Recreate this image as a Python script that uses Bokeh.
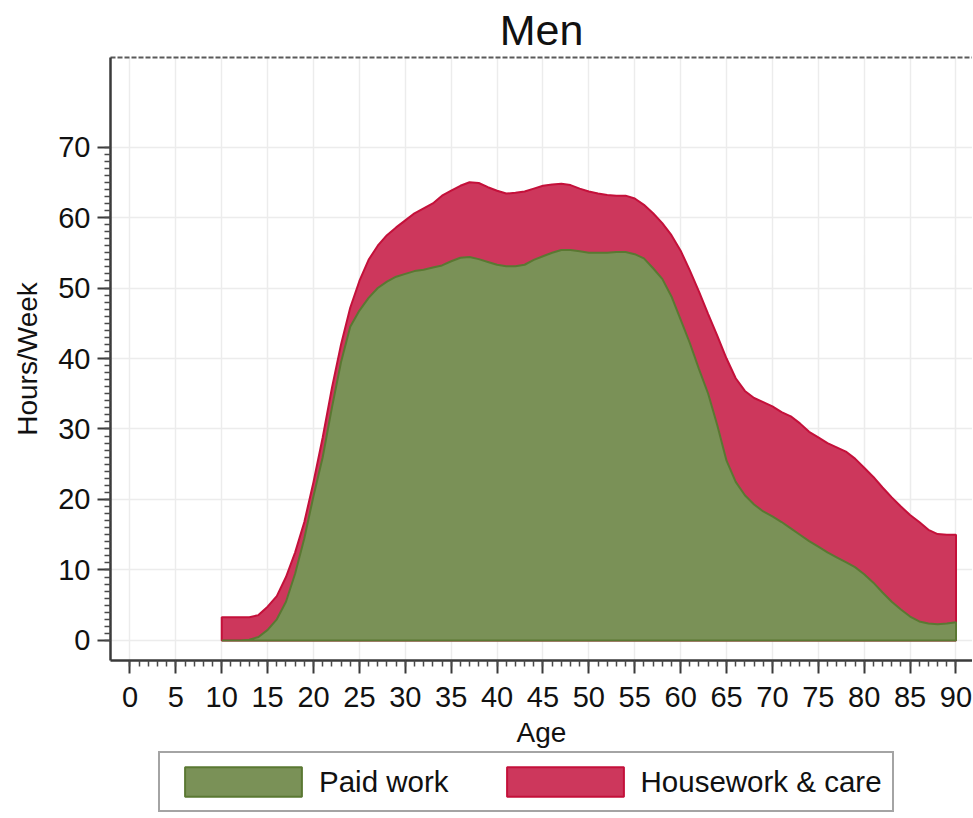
from bokeh.plotting import figure
from bokeh.layouts import column
from bokeh.models import FixedTicker, LinearAxis, Range1d, Legend, LegendItem
from bokeh.embed import file_html
from bokeh.resources import INLINE

# ---- data ----
ages = list(range(10, 91))
paid_work = [0, 0, 0, 0.1, 0.5, 1.5, 3, 5.5, 9.5, 14.5,
             20.5, 26, 33, 39.5, 44.5, 46.8, 48.6, 50, 50.9, 51.6,
             52.0, 52.4, 52.6, 52.9, 53.2, 53.8, 54.3, 54.4, 54.1, 53.7,
             53.3, 53.1, 53.1, 53.3, 54.0, 54.5, 55.0, 55.4, 55.4, 55.2,
             55.0, 55.0, 55.0, 55.1, 55.1, 54.8, 54.2, 52.8, 51.3, 48.8,
             45.5, 42.2, 38.5, 35.0, 30.5, 25.5, 22.5, 20.6, 19.3, 18.3,
             17.6, 16.8, 15.9, 15.0, 14.1, 13.3, 12.5, 11.8, 11.1, 10.4,
             9.4, 8.2, 6.8, 5.5, 4.4, 3.4, 2.7, 2.4, 2.3, 2.4,
             2.6]
total_work = [3.3, 3.3, 3.3, 3.3, 3.6, 4.8, 6.3, 9.0, 12.5, 16.8,
              22.5, 28.8, 35.8, 42.0, 47.2, 51.0, 54.0, 56.0, 57.5, 58.6,
              59.6, 60.6, 61.3, 62.0, 63.1, 63.8, 64.5, 65.0, 64.9, 64.3,
              63.8, 63.4, 63.5, 63.7, 64.1, 64.5, 64.7, 64.8, 64.6, 64.1,
              63.7, 63.4, 63.2, 63.1, 63.1, 62.7, 61.8, 60.6, 59.2, 57.5,
              55.3, 52.5, 49.5, 46.3, 43.2, 40.0, 37.2, 35.4, 34.4, 33.8,
              33.2, 32.4, 31.8, 30.8, 29.6, 28.8, 28.0, 27.4, 26.8, 25.8,
              24.5, 23.2, 21.7, 20.3, 19.0, 17.8, 16.8, 15.7, 15.1, 15.0,
              15.0]
x_ticks = list(range(0, 91, 5))
y_ticks = list(range(0, 71, 10))
series_labels = ["Paid work", "Housework & care"]

FONT = "Liberation Sans"
GREEN_FILL, GREEN_LINE = "#7a9157", "#5a7832"
RED_FILL, RED_LINE = "#cd375c", "#c4103a"

p = figure(frame_width=862, frame_height=603,
           x_range=Range1d(-2.12, 91.8), y_range=Range1d(-2.84, 82.7),
           output_backend="svg", toolbar_location=None,
           min_border_left=110, min_border_right=0, min_border_top=0,
           min_border_bottom=0)
p.outline_line_color = None
p.background_fill_color = "white"

bx = [ages[0]] + ages + [ages[-1]]
red = p.patch(bx, [0] + total_work + [0], fill_color=RED_FILL,
              line_color=RED_LINE, line_width=2)
green = p.patch(bx, [0] + paid_work + [0], fill_color=GREEN_FILL,
                line_color=GREEN_LINE, line_width=2)

p.title.text = "Men"
p.title.text_font = FONT
p.title.text_font_size = "43px"
p.title.text_font_style = "normal"
p.title.text_color = "#111111"
p.title.align = "center"
p.title.standoff = 7

top = LinearAxis(ticker=FixedTicker(ticks=[]), axis_line_color="#5a5a5a",
                 axis_line_width=2, axis_line_dash="5 2",
                 major_tick_line_color=None, minor_tick_line_color=None,
                 major_label_text_font_size="0px")
p.add_layout(top, "above")

xa = p.below[0]
ya = p.left[0]
xa.ticker = FixedTicker(ticks=x_ticks, minor_ticks=list(range(0, 91)))
ya.ticker = FixedTicker(ticks=y_ticks, minor_ticks=list(range(0, 71)))
for ax in (xa, ya):
    ax.axis_line_color = "#3a3a3a"
    ax.axis_line_width = 2.5
    ax.major_tick_line_color = "#3a3a3a"
    ax.major_tick_line_width = 2
    ax.major_tick_out = 13
    ax.major_tick_in = 0
    ax.minor_tick_line_color = "#4a4a4a"
    ax.minor_tick_line_width = 1.5
    ax.minor_tick_out = 6
    ax.minor_tick_in = 0
    ax.major_label_text_font = FONT
    ax.major_label_text_font_size = "29px"
    ax.major_label_text_color = "#111111"
    ax.axis_label_text_font = FONT
    ax.axis_label_text_font_size = "28px"
    ax.axis_label_text_font_style = "normal"
    ax.axis_label_text_color = "#111111"
xa.axis_label = "Age"
ya.axis_label = "Hours/Week"
xa.major_label_standoff = 13
xa.axis_label_standoff = 7
ya.major_label_standoff = 7
ya.axis_label_standoff = 12

p.xgrid.ticker = FixedTicker(ticks=x_ticks)
p.ygrid.ticker = FixedTicker(ticks=y_ticks)
p.grid.grid_line_color = "#ececec"
p.grid.grid_line_width = 1.5

# legend in its own strip below the chart (key renderers lie outside its range)
lg = figure(width=972, height=64, x_range=Range1d(0, 1), y_range=Range1d(0, 1),
            output_backend="svg", toolbar_location=None,
            x_axis_location=None, y_axis_location=None, min_border=0)
lg.outline_line_color = None
lg.grid.visible = False
g_key = lg.patch(bx, [0] + paid_work + [0], fill_color=GREEN_FILL,
                 line_color=GREEN_LINE, line_width=2)
r_key = lg.patch(bx, [0] + total_work + [0], fill_color=RED_FILL,
                 line_color=RED_LINE, line_width=2)
legend = Legend(items=[LegendItem(label=series_labels[0], renderers=[g_key]),
                       LegendItem(label=series_labels[1], renderers=[r_key])],
                orientation="horizontal", location=(48, 2),
                glyph_width=146, glyph_height=37, label_text_font=FONT,
                label_text_font_size="29.5px", label_text_color="#111111",
                spacing=43, label_standoff=3, padding=10,
                border_line_color="#4a4a4a", border_line_width=2.5,
                background_fill_color="white", margin=0)
lg.add_layout(legend, "center")

open("out.html", "w").write(file_html(column(p, lg, spacing=0), INLINE))
